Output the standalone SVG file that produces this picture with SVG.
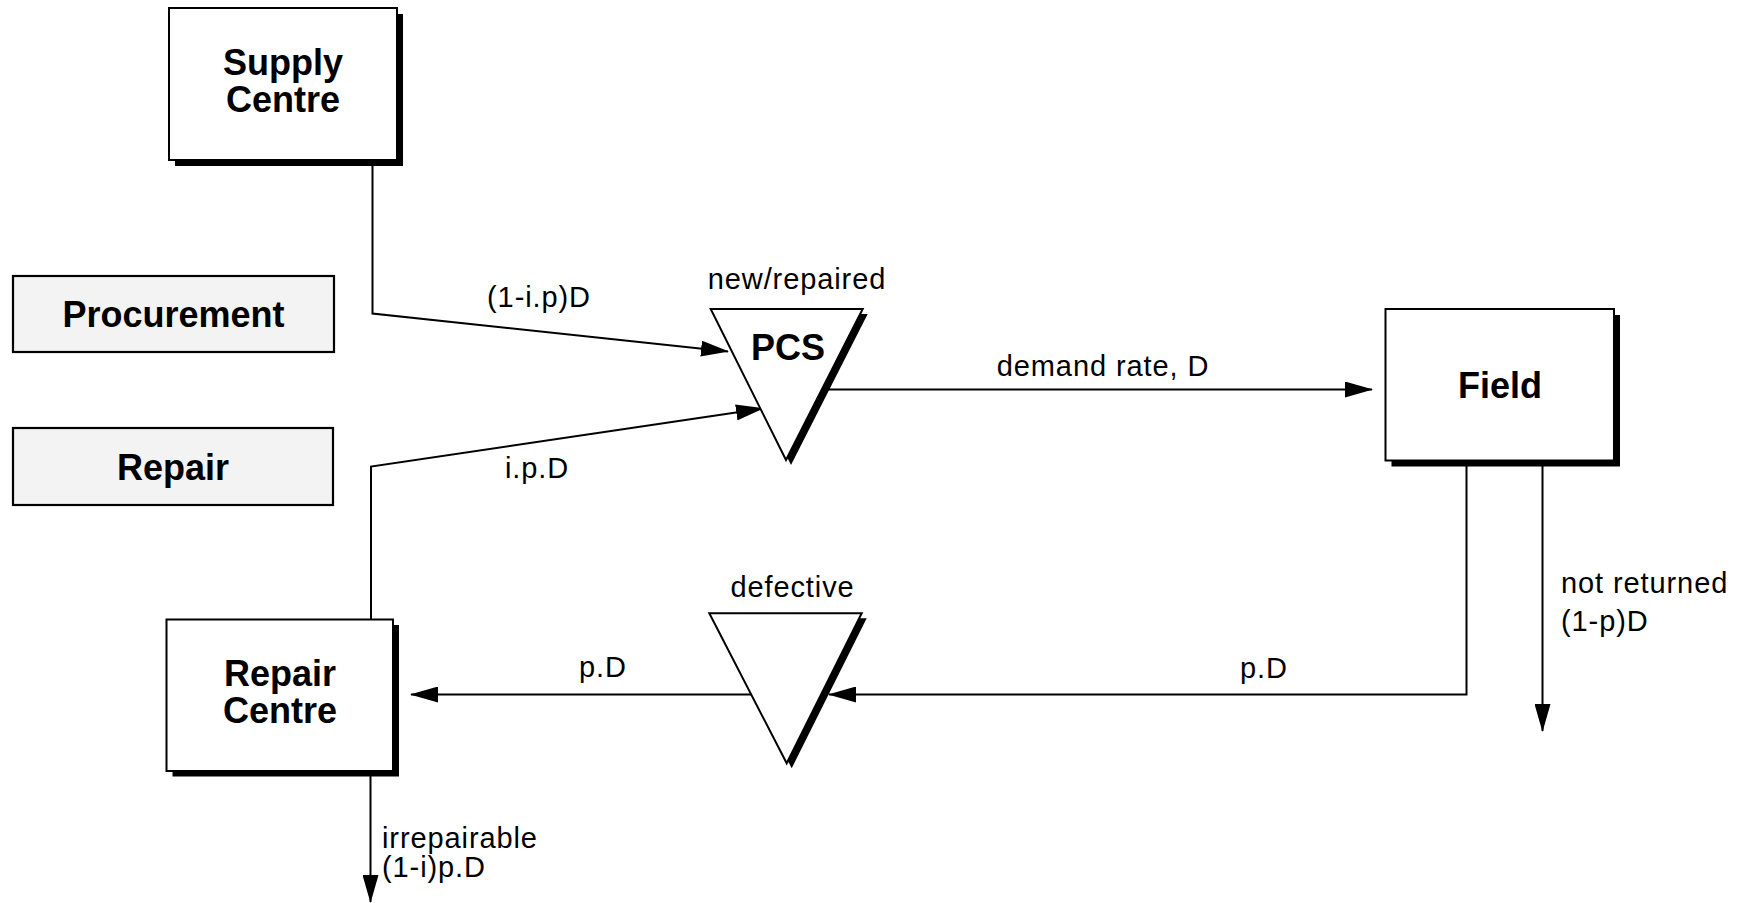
<svg xmlns="http://www.w3.org/2000/svg" width="1740" height="903" viewBox="0 0 1740 903">
  <defs>
    <marker id="arrow" viewBox="0 0 28 16" markerWidth="28" markerHeight="16" refX="27" refY="8" orient="auto" markerUnits="userSpaceOnUse">
      <path d="M0,0 L28,8 L0,16 z" fill="#000"/>
    </marker>
  </defs>
  <style>
    .box { fill: #fff; stroke: #000; stroke-width: 2; }
    .shadow { fill: #000; }
    .plain { fill: #f3f3f3; stroke: #000; stroke-width: 2.2; }
    .tri { fill: #fff; stroke: #000; stroke-width: 2; stroke-linejoin: miter; }
    .title { font-family: "Liberation Sans", Arial, Helvetica, sans-serif; font-weight: bold; font-size: 36px; fill: #000; text-anchor: middle; }
    .lbl { font-family: "Liberation Sans", Arial, Helvetica, sans-serif; font-size: 29px; letter-spacing: 0.9px; fill: #000; }
    .mid { text-anchor: middle; }
    .flow { fill: none; stroke: #000; stroke-width: 2; }
    .arr { marker-end: url(#arrow); }
  </style>

  <rect width="1740" height="903" fill="#fff"/>

  <!-- flow lines, drawn first so boxes sit on top -->
  <g id="connectors">
    <polyline class="flow arr" points="372.5,160 372.5,313.5 728,351.5"/>
    <polyline class="flow arr" points="371,619 371,466.5 763,408.5"/>
    <line class="flow arr" x1="822" y1="389.5" x2="1372" y2="389.5"/>
    <polyline class="flow arr" points="1466.5,461 1466.5,694.5 829,694.5"/>
    <line class="flow arr" x1="751" y1="694.5" x2="411" y2="694.5"/>
    <line class="flow arr" x1="1542.5" y1="461" x2="1542.5" y2="731"/>
    <line class="flow arr" x1="370.5" y1="771" x2="370.5" y2="902"/>

    <text class="lbl mid" x="539" y="307">(1-i.p)D</text>
    <text class="lbl mid" x="537" y="478">i.p.D</text>
    <text class="lbl mid" x="1103" y="376">demand rate, D</text>
    <text class="lbl mid" x="603" y="677">p.D</text>
    <text class="lbl mid" x="1264" y="678">p.D</text>
    <text class="lbl" x="1561" y="593">not returned</text>
    <text class="lbl" x="1561" y="631">(1-p)D</text>
    <text class="lbl" x="382" y="848">irrepairable</text>
    <text class="lbl" x="382" y="877">(1-i)p.D</text>
  </g>

  <!-- Supply Centre -->
  <g id="supply-centre">
    <rect class="shadow" x="175" y="14" width="228" height="152"/>
    <rect class="box" x="169" y="8" width="228" height="152"/>
    <text class="title" x="283" y="75">Supply</text>
    <text class="title" x="283" y="112">Centre</text>
  </g>

  <!-- Procurement -->
  <g id="procurement">
    <rect class="plain" x="13" y="276" width="321" height="76"/>
    <text class="title" x="173.5" y="326.5">Procurement</text>
  </g>

  <!-- Repair -->
  <g id="repair">
    <rect class="plain" x="13" y="428" width="320" height="77"/>
    <text class="title" x="173" y="480">Repair</text>
  </g>

  <!-- PCS stock point -->
  <g id="pcs">
    <text class="lbl mid" x="797" y="289">new/repaired</text>
    <polygon class="shadow" points="715.7,314 867.7,314 791,465"/>
    <polygon class="tri" points="710.7,309 862.7,309 786,460"/>
    <text class="title" x="788" y="360">PCS</text>
  </g>

  <!-- Field -->
  <g id="field">
    <rect class="shadow" x="1391.5" y="315" width="228.5" height="151.5"/>
    <rect class="box" x="1385.5" y="309" width="228.5" height="151.5"/>
    <text class="title" x="1500" y="398">Field</text>
  </g>

  <!-- defective stock point -->
  <g id="defective">
    <text class="lbl mid" x="792.5" y="596.5">defective</text>
    <polygon class="shadow" points="714.3,618.3 866.7,618.3 791.7,768.3"/>
    <polygon class="tri" points="709.3,613.3 861.7,613.3 786.7,763.3"/>
  </g>

  <!-- Repair Centre -->
  <g id="repair-centre">
    <rect class="shadow" x="172.5" y="625" width="226.5" height="151.5"/>
    <rect class="box" x="166.5" y="619.5" width="226.5" height="151.5"/>
    <text class="title" x="280" y="685.5">Repair</text>
    <text class="title" x="280" y="722.5">Centre</text>
  </g>
</svg>
